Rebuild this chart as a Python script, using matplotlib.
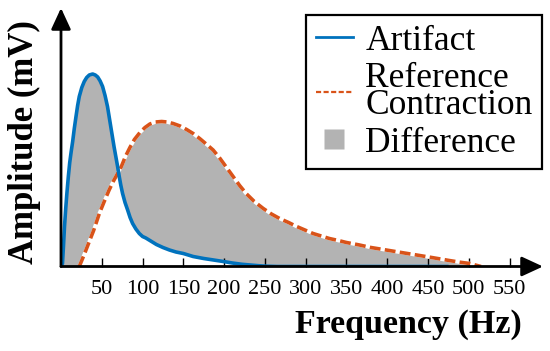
import matplotlib
matplotlib.use("Agg")
import matplotlib.pyplot as plt
import numpy as np
from matplotlib.lines import Line2D

# Frequency (Hz) and amplitude (arbitrary units)
artifact_freq = [0, 1.8, 3, 4.3, 5.7, 7.2, 9, 10.7, 12.5, 14.3, 16.3, 18.4, 20.4, 22.4,
                 25.5, 28.5, 31.5, 34.7, 38.8, 42, 45, 48, 51, 54, 57, 59, 61, 63, 65,
                 67.2, 69.4, 71.4, 73.4, 75.5, 78.5, 81.7, 84.7, 87.8, 91.8, 96, 100,
                 104, 110, 117, 125, 133, 141, 150, 162, 175, 187, 199, 210, 222, 232,
                 242, 252, 265, 473]
artifact_amp = [0, 3, 20, 40, 57, 73, 90, 104, 115, 125, 138, 150, 161, 170,
                179, 185, 189, 191.5, 192.5, 191.5, 189.5, 185.5, 180, 171, 160, 150,
                140, 130, 120, 110, 100, 90, 81, 73, 64, 56.5, 49, 43, 37.5, 33, 30,
                28.5, 25.5, 22, 19, 16.5, 14.5, 13, 10, 8, 6.5, 5, 3.5, 2.2, 1.5,
                0.8, 0.3, 0, 0]

reference_freq = [22.4, 28, 34.7, 40, 47, 53, 59, 64, 69.4, 74, 79, 84.5, 90, 96.8,
                  103, 109, 116, 123.5, 130, 137.5, 146, 154, 162, 170, 178, 186.5,
                  195, 203, 211, 219, 227, 237, 248, 258, 268, 279, 289, 299, 309,
                  319, 329, 340, 350, 366, 380, 395, 415, 436, 456, 476, 490, 501,
                  508, 515]
reference_amp = [0, 11, 25, 36, 53, 65, 76.5, 85, 93, 100, 110, 119, 127, 134,
                 139, 142.5, 144.5, 145, 144.5, 143, 140.5, 137, 133, 128, 122.5,
                 116.5, 108, 99, 90, 81, 73, 65, 58, 52.5, 48, 44, 40, 36.5, 33,
                 30.5, 28, 26, 24, 21.5, 19, 17, 14.3, 11.5, 8.8, 6, 4.2, 3, 1.5, 0]

xticks = [50, 100, 150, 200, 250, 300, 350, 400, 450, 500, 550]

BLUE = "#0072BD"
ORANGE = "#D95319"
GRAY = "#B3B3B3"
FONT = "Liberation Serif"

plt.rcParams["font.family"] = [FONT, "DejaVu Serif"]

fig = plt.figure(figsize=(5.5, 3.51), dpi=100)
ax = fig.add_axes([61 / 550, 84.5 / 351, (543 - 61) / 550, (266.5 - 8) / 351])
ax.set_xlim(0, 591)
ax.set_ylim(0, 258.5)

# common grid for the fill
grid = np.union1d(artifact_freq, reference_freq)
a_on = np.interp(grid, artifact_freq, artifact_amp)
r_on = np.interp(grid, reference_freq, reference_amp, left=0, right=0)
ax.fill_between(grid, np.minimum(a_on, r_on), np.maximum(a_on, r_on),
                color=GRAY, lw=0, zorder=1)

LW = 2.6
ax.plot(reference_freq, reference_amp, color="white", lw=LW, zorder=2,
        solid_capstyle="butt", solid_joinstyle="round")
ax.plot(reference_freq, reference_amp, color=ORANGE, lw=LW, zorder=3,
        dashes=(3.0, 1.2), dash_capstyle="butt", dash_joinstyle="round")
ax.plot(artifact_freq, artifact_amp, color=BLUE, lw=LW, zorder=4,
        solid_joinstyle="round")

for s in ax.spines.values():
    s.set_visible(False)

arrow_kw = dict(arrowstyle="-|>,head_length=1.3,head_width=0.6", color="black",
                lw=2.0, mutation_scale=10, shrinkA=0, shrinkB=0)
ax.annotate("", xy=(1, 0), xytext=(0, 0), xycoords="axes fraction",
            arrowprops=arrow_kw, annotation_clip=False, zorder=6)
ax.annotate("", xy=(0, 1), xytext=(0, 0), xycoords="axes fraction",
            arrowprops=arrow_kw, annotation_clip=False, zorder=6)

ax.set_xticks(xticks)
ax.set_xticklabels([str(t) for t in xticks])
ax.set_yticks([])
ax.tick_params(axis="x", direction="in", length=6.5, width=1.0, pad=10,
               labelsize=16, colors="black")
for t in ax.get_xticklabels():
    t.set_fontfamily(FONT)

fig.text(408 / 550, 1 - 325 / 351, "Frequency (Hz)", ha="center", va="center",
         fontsize=24.5, fontweight="bold", family=FONT)
fig.text(24 / 550, 1 - 142 / 351, "Amplitude (mV)", ha="center", va="center",
         rotation=90, fontsize=25, fontweight="bold", family=FONT)

h_art = Line2D([], [], color=BLUE, lw=2.0)
h_ref = Line2D([], [], color=ORANGE, lw=1.6, dashes=(2.3, 1.1))
h_diff = Line2D([], [], ls="none", marker="s", markersize=15,
                markerfacecolor=GRAY, markeredgecolor="none")
leg = ax.legend([h_art, h_ref, h_diff], ["Artifact", "Reference\nContraction", "Difference"],
                loc="upper right", bbox_to_anchor=(542 / 550, 1 - 15 / 351),
                bbox_transform=fig.transFigure, fontsize=25.5, frameon=True,
                fancybox=False, edgecolor="black", framealpha=1,
                handlelength=1.05, handletextpad=0.35, labelspacing=0.12,
                borderpad=0.27, borderaxespad=0)
leg.get_frame().set_linewidth(1.6)
for t in leg.get_texts():
    t.set_linespacing(0.78)
    t.set_fontfamily(FONT)

fig.savefig("out.png", dpi=100)
